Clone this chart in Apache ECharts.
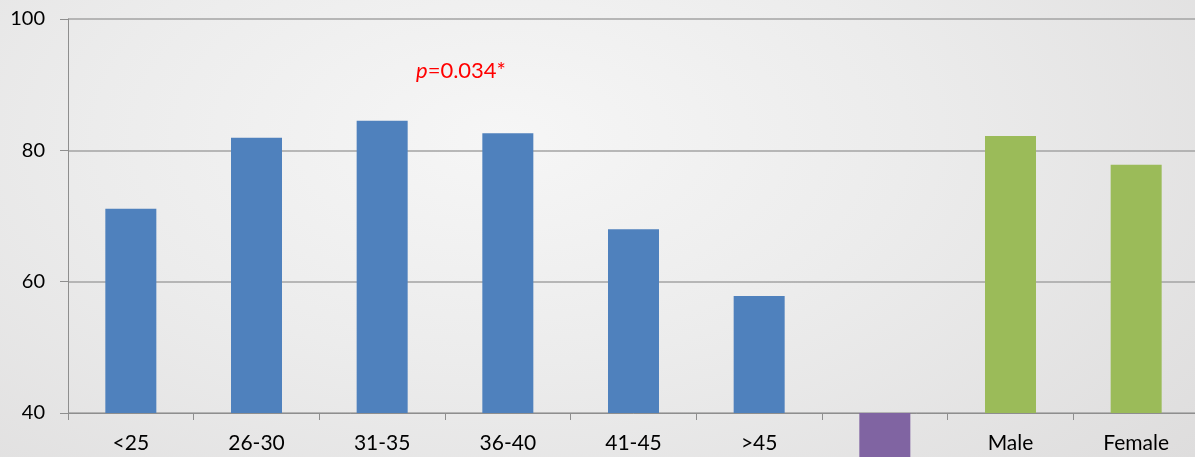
<!DOCTYPE html>
<html>
<head>
<meta charset="utf-8">
<script src="https://cdn.jsdelivr.net/npm/echarts@6/dist/echarts.min.js"></script>
<style>
  html, body { margin: 0; padding: 0; }
  body {
    width: 1195px; height: 457px; overflow: hidden;
    background: radial-gradient(ellipse 900px 500px at 42% 30%, #f6f6f6 0%, #ececec 45%, #dedddd 100%);
  }
  /* a bit wider than the window: the plot runs off the right edge */
  #chart { width: 1201px; height: 457px; }
</style>
</head>
<body>
<div id="chart"></div>
<script>
// categories along the x axis (the 7th slot has no label)
const categories = ["<25", "26-30", "31-35", "36-40", "41-45", ">45", "", "Male", "Female"];
// percentages
const ageValues = [71.1, 81.9, 84.5, 82.6, 68.0, 57.8];
const otherValue = 33;       // purple bar, below the axis minimum
const sexValues = [82.2, 77.8];
const yTicks = { min: 40, max: 100, interval: 20 };
const pText = "0.034*";

const colors = { age: "#4f81bd", other: "#8064a2", sex: "#9bbb59" };
const font = "Lato, 'Open Sans', sans-serif";

// main bars: ages then sexes, gap for the purple slot
let mainData = [];
ageValues.forEach(v => mainData.push({ value: v, itemStyle: { color: colors.age } }));
mainData.push(null);
sexValues.forEach(v => mainData.push({ value: v, itemStyle: { color: colors.sex } }));

// purple bar hangs from the axis down to its value
let baseData = categories.map((c, i) => i === 6 ? otherValue : null);
let purpleData = categories.map((c, i) => i === 6 ? yTicks.min - otherValue : null);

const chart = echarts.init(document.getElementById("chart"));
chart.setOption({
  animation: false,
  backgroundColor: "transparent",
  grid: { left: 68, right: 2, top: 19, bottom: 44 },
  xAxis: {
    type: "category",
    data: categories,
    axisLine: { lineStyle: { color: "#8e8e8e", width: 1 } },
    axisTick: { show: true, length: 7, lineStyle: { color: "#8e8e8e" } },
    axisLabel: { color: "#000", fontSize: 21, fontFamily: font, margin: 20, interval: 0 },
    splitLine: { show: false }
  },
  yAxis: {
    type: "value",
    min: yTicks.min, max: yTicks.max, interval: yTicks.interval,
    axisLine: { show: true, lineStyle: { color: "#8e8e8e", width: 1 } },
    axisTick: { show: true, length: 8, lineStyle: { color: "#8e8e8e" } },
    axisLabel: { color: "#000", fontSize: 20, fontFamily: font, margin: 23 },
    splitLine: { show: true, lineStyle: { color: "#a3a3a3", width: 1.5 } }
  },
  graphic: [{
    type: "text",
    left: 416, top: 60,
    style: {
      text: "{i|p}{n|=" + pText + "}",
      rich: {
        i: { fill: "#ff0000", fontSize: 22, fontStyle: "italic", fontFamily: font },
        n: { fill: "#ff0000", fontSize: 22, fontFamily: font }
      }
    }
  }],
  series: [
    { type: "bar", data: mainData, barWidth: 51, barGap: "-100%" },
    { type: "bar", stack: "other", data: baseData, barWidth: 51, barGap: "-100%",
      itemStyle: { color: "transparent" } },
    { type: "bar", stack: "other", data: purpleData, barWidth: 51, barGap: "-100%",
      clip: false, itemStyle: { color: colors.other } }
  ]
});
</script>
</body>
</html>
